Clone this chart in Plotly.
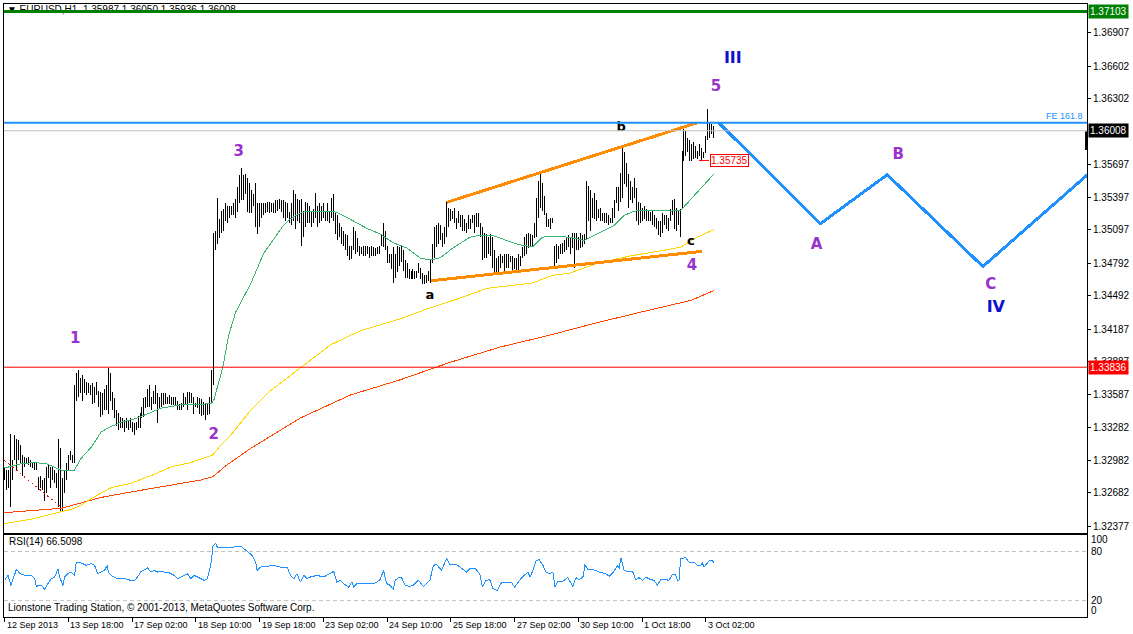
import plotly.graph_objects as go

# ---------------- data ----------------
bar_high = [
1.3291,1.3289,1.3289,1.3322,1.3298,1.3321,1.3318,1.3317,1.3312,1.3303,
1.3301,1.3300,1.3301,1.3298,1.3296,1.3296,1.3296,1.3283,1.3284,1.3280,
1.3282,1.3292,1.3294,1.3292,1.3292,1.3289,1.3286,1.3318,1.3309,1.3282,
1.3289,1.3296,1.3303,1.3307,1.3303,1.3367,1.3378,1.3381,1.3374,1.3376,
1.3373,1.3370,1.3369,1.3367,1.3369,1.3365,1.3370,1.3362,1.3361,1.3360,
1.3364,1.3367,1.3383,1.3378,1.3361,1.3355,1.3344,1.3342,1.3338,1.3337,
1.3335,1.3337,1.3335,1.3337,1.3333,1.3332,1.3333,1.3339,1.3342,1.3347,
1.3355,1.3356,1.3364,1.3367,1.3356,1.3362,1.3367,1.3360,1.3356,1.3360,
1.3360,1.3360,1.3356,1.3358,1.3356,1.3356,1.3356,1.3353,1.3350,1.3351,
1.3360,1.3356,1.3361,1.3361,1.3360,1.3356,1.3351,1.3356,1.3355,1.3354,
1.3352,1.3351,1.3351,1.3356,1.3381,1.3507,1.3509,1.3539,1.3520,1.3527,
1.3529,1.3534,1.3532,1.3532,1.3532,1.3534,1.3538,1.3549,1.3560,1.3567,
1.3560,1.3561,1.3557,1.3553,1.3546,1.3543,1.3553,1.3534,1.3534,1.3534,
1.3534,1.3534,1.3535,1.3535,1.3534,1.3534,1.3537,1.3537,1.3538,1.3537,
1.3537,1.3535,1.3534,1.3526,1.3534,1.3546,1.3543,1.3538,1.3537,1.3538,
1.3527,1.3535,1.3534,1.3532,1.3527,1.3529,1.3544,1.3532,1.3534,1.3532,
1.3534,1.3526,1.3534,1.3526,1.3539,1.3543,1.3525,1.3523,1.3516,1.3512,
1.3509,1.3506,1.3505,1.3495,1.3495,1.3512,1.3509,1.3502,1.3495,1.3494,
1.3495,1.3495,1.3495,1.3494,1.3495,1.3494,1.3493,1.3494,1.3495,1.3505,
1.3516,1.3509,1.3495,1.3488,1.3488,1.3494,1.3488,1.3495,1.3494,1.3495,
1.3491,1.3482,1.3479,1.3474,1.3472,1.3474,1.3472,1.3472,1.3479,1.3475,
1.3470,1.3468,1.3468,1.3472,1.3483,1.3497,1.3512,1.3514,1.3516,1.3514,
1.3507,1.3512,1.3535,1.3530,1.3529,1.3527,1.3530,1.3521,1.3527,1.3523,
1.3523,1.3520,1.3516,1.3523,1.3520,1.3523,1.3523,1.3525,1.3525,1.3516,
1.3512,1.3507,1.3506,1.3503,1.3506,1.3503,1.3491,1.3484,1.3486,1.3488,
1.3486,1.3488,1.3488,1.3488,1.3486,1.3486,1.3484,1.3484,1.3488,1.3486,
1.3494,1.3503,1.3506,1.3507,1.3506,1.3505,1.3516,1.3539,1.3555,1.3562,
1.3553,1.3541,1.3525,1.3520,1.3521,1.3521,1.3495,1.3497,1.3495,1.3497,
1.3498,1.3500,1.3503,1.3505,1.3503,1.3507,1.3507,1.3507,1.3503,1.3507,
1.3505,1.3506,1.3555,1.3550,1.3546,1.3539,1.3544,1.3537,1.3529,1.3530,
1.3525,1.3525,1.3525,1.3523,1.3521,1.3530,1.3537,1.3549,1.3549,1.3562,
1.3585,1.3581,1.3571,1.3561,1.3555,1.3549,1.3557,1.3548,1.3535,1.3534,
1.3530,1.3532,1.3529,1.3527,1.3526,1.3527,1.3523,1.3521,1.3518,1.3518,
1.3525,1.3523,1.3523,1.3521,1.3529,1.3537,1.3538,1.3530,1.3527,1.3529,
1.3582,1.3603,1.3601,1.3594,1.3592,1.3589,1.3590,1.3587,1.3582,1.3589,
1.3585,1.3581,1.3596,1.3621,1.3608,1.3607,1.3605]

bar_low = [
1.3280,1.3271,1.3273,1.3255,1.3280,1.3298,1.3289,1.3298,1.3296,1.3284,
1.3292,1.3296,1.3294,1.3292,1.3291,1.3289,1.3289,1.3271,1.3273,1.3271,
1.3261,1.3268,1.3282,1.3273,1.3280,1.3277,1.3273,1.3255,1.3252,1.3252,
1.3268,1.3280,1.3289,1.3298,1.3296,1.3296,1.3353,1.3356,1.3360,1.3353,
1.3360,1.3358,1.3360,1.3358,1.3350,1.3351,1.3358,1.3347,1.3338,1.3340,
1.3344,1.3344,1.3341,1.3353,1.3344,1.3337,1.3330,1.3326,1.3328,1.3328,
1.3324,1.3328,1.3326,1.3328,1.3324,1.3321,1.3326,1.3328,1.3328,1.3337,
1.3338,1.3346,1.3347,1.3347,1.3344,1.3350,1.3350,1.3332,1.3346,1.3347,
1.3349,1.3350,1.3350,1.3350,1.3349,1.3349,1.3349,1.3344,1.3344,1.3344,
1.3347,1.3349,1.3344,1.3351,1.3351,1.3341,1.3347,1.3346,1.3341,1.3339,
1.3340,1.3335,1.3340,1.3341,1.3350,1.3367,1.3491,1.3497,1.3502,1.3507,
1.3509,1.3518,1.3516,1.3521,1.3523,1.3523,1.3521,1.3526,1.3534,1.3537,
1.3537,1.3543,1.3526,1.3525,1.3525,1.3532,1.3512,1.3506,1.3512,1.3521,
1.3523,1.3525,1.3526,1.3525,1.3526,1.3525,1.3525,1.3527,1.3529,1.3526,
1.3521,1.3518,1.3521,1.3516,1.3514,1.3518,1.3511,1.3518,1.3516,1.3495,
1.3503,1.3512,1.3516,1.3516,1.3512,1.3516,1.3521,1.3512,1.3516,1.3518,
1.3521,1.3518,1.3518,1.3516,1.3521,1.3518,1.3506,1.3500,1.3503,1.3497,
1.3495,1.3491,1.3486,1.3482,1.3483,1.3491,1.3488,1.3489,1.3486,1.3488,
1.3486,1.3486,1.3488,1.3484,1.3486,1.3486,1.3486,1.3488,1.3488,1.3495,
1.3494,1.3491,1.3479,1.3479,1.3474,1.3461,1.3466,1.3471,1.3477,1.3480,
1.3472,1.3466,1.3466,1.3465,1.3465,1.3465,1.3465,1.3466,1.3470,1.3465,
1.3460,1.3460,1.3461,1.3463,1.3461,1.3479,1.3484,1.3494,1.3497,1.3500,
1.3494,1.3497,1.3503,1.3512,1.3518,1.3520,1.3516,1.3511,1.3516,1.3512,
1.3509,1.3509,1.3507,1.3511,1.3511,1.3516,1.3507,1.3512,1.3512,1.3503,
1.3482,1.3484,1.3484,1.3488,1.3486,1.3475,1.3470,1.3470,1.3471,1.3475,
1.3479,1.3472,1.3475,1.3475,1.3480,1.3472,1.3474,1.3472,1.3472,1.3477,
1.3484,1.3486,1.3488,1.3493,1.3494,1.3494,1.3502,1.3503,1.3521,1.3530,
1.3527,1.3523,1.3512,1.3512,1.3511,1.3516,1.3475,1.3479,1.3483,1.3488,
1.3488,1.3489,1.3491,1.3494,1.3488,1.3493,1.3475,1.3491,1.3491,1.3493,
1.3494,1.3497,1.3500,1.3518,1.3509,1.3521,1.3520,1.3518,1.3521,1.3518,
1.3518,1.3516,1.3516,1.3514,1.3516,1.3516,1.3521,1.3534,1.3527,1.3535,
1.3539,1.3552,1.3549,1.3530,1.3537,1.3534,1.3539,1.3518,1.3514,1.3516,
1.3518,1.3520,1.3518,1.3518,1.3518,1.3514,1.3512,1.3511,1.3505,1.3503,
1.3507,1.3514,1.3511,1.3509,1.3518,1.3523,1.3511,1.3509,1.3514,1.3503,
1.3530,1.3573,1.3578,1.3581,1.3573,1.3573,1.3575,1.3576,1.3575,1.3578,
1.3573,1.3576,1.3580,1.3592,1.3594,1.3598,1.3594]

ma_fast_x = [0,8.5,15,21,28.5,35,38.5,43.5,48.5,52,58.5,65,73.5,78.5,88.5,103.5,105,109.5,112.5,116,
             120,123.5,127,130,133.5,137,140,143.5,148.5,152,165,170,175,182,188.5,195,202,208.5,213.5,218.5,
             225,233.5,239.5,244.5,252,258.5,265,270,275,283.5,291,297.5,306,311,316,327.5,334.5,339.5,344.5,349.5,
             354.5,356]
ma_fast = [1.3291,1.3295,1.3296,1.3295,1.3289,1.3289,1.3300,1.3310,1.3324,1.3328,1.3333,1.3336,1.3342,1.3346,1.3349,1.3350,1.3353,1.3383,1.3413,1.3434,
           1.3448,1.3460,1.3475,1.3488,1.3497,1.3506,1.3514,1.3520,1.3525,1.3527,1.3527,1.3523,1.3518,1.3511,1.3506,1.3498,1.3493,1.3484,1.3482,1.3484,
           1.3493,1.3503,1.3505,1.3505,1.3500,1.3496,1.3494,1.3503,1.3504,1.3503,1.3500,1.3506,1.3514,1.3523,1.3527,1.3528,1.3527,1.3528,1.3538,1.3548,
           1.3558,1.3561]

ma_mid_x = [0,13.5,28.5,33.5,38.5,43.5,48.5,53.5,63.5,73.5,83.5,93.5,104.5,108.5,113.5,123.5,133.5,148.5,163.5,178.5,
            198.5,213.5,227,242,255,265,275,283.5,297.5,314.5,331,339.5,347.5,356]
ma_mid = [1.3240,1.3244,1.3251,1.3253,1.3257,1.3263,1.3268,1.3273,1.3277,1.3284,1.3292,1.3296,1.3303,1.3312,1.3321,1.3344,1.3362,1.3383,1.3404,1.3417,
          1.3428,1.3438,1.3446,1.3456,1.3459,1.3461,1.3468,1.3470,1.3479,1.3486,1.3491,1.3494,1.3503,1.3510]

ma_slow_x = [0,28.5,38.5,48.5,63.5,83.5,98.5,104.5,111,123.5,148.5,173.5,198.5,223.5,248.5,273.5,298.5,323.5,344.5,356]
ma_slow = [1.3250,1.3254,1.3259,1.3264,1.3269,1.3275,1.3280,1.3283,1.3293,1.3309,1.3337,1.3358,1.3372,1.3388,1.3402,1.3413,1.3425,1.3436,1.3445,1.3454]

rsi_x = [0,1.8,3.2,5.2,6,7.7,10.2,13.5,15.2,16,16.8,18.5,20.2,21.8,23.5,25.2,26.8,27.7,28.5,29.3,
         30.2,31.8,33.5,35.2,36,36.8,39.3,41,43.5,45.2,46.8,48.5,50.2,51.5,52.2,53.5,55.2,56.8,60.2,63.5,
         65.2,66.8,68.5,70.2,71.8,73.5,75.2,76.8,78.5,80.2,81.8,83.5,85.2,86.8,88.5,90.2,91.8,93.5,95.2,98.5,
         100.2,101.8,103.5,104.7,106,106.8,108.5,111.8,115.2,118.5,120.2,121.8,124.3,126,126.8,128.5,131.8,135.2,138.5,141.8,
         143.5,145.2,146.8,148.5,150.2,151.8,153.5,156.8,160.2,163.5,165.2,166.8,168.5,170.2,172.7,174.3,175.2,176.8,179.3,181.8,
         185.2,186.8,188.5,190.2,191.8,193.5,195.2,196,197.7,199.3,201,203.5,205.2,207.7,210.2,213.5,215.2,216.8,219.3,221.8,
         223.5,226.8,230.2,231.8,233.5,236,238.5,239.8,241.5,243.5,245.2,247.2,249.3,251,254.3,256,258.5,260.2,262.7,263.8,
         265.2,266.8,268.2,270.2,271.8,273.5,275.2,276.3,277.7,280.2,282.7,285.2,286.8,288.5,290.5,291.2,292.7,295.2,298.5,301.8,
         303.5,305.2,307.7,308.5,309.3,311,313.5,315.2,316.8,318.5,320.2,321.8,324.3,326,327.7,329.3,331.8,333.5,335.2,336.8,
         337.7,338.5,339.3,341.8,343.5,346,347.7,349.3,350.2,351,353.5,355.2,356]
rsi_vals = [44.7,50.8,38.6,54.9,58.2,52.9,50.8,50.8,46.8,36.6,38.6,38.6,33.8,40.7,46.8,48.8,59.0,48.8,42.7,38.6,
            48.8,52.9,54.9,50.8,67.1,67.1,65.1,63.0,65.1,63.0,52.9,54.9,56.9,63.0,54.9,50.8,48.8,46.8,46.8,44.7,
            44.7,48.8,55.7,58.2,59.8,54.9,56.9,54.9,55.7,54.9,54.9,52.9,50.8,46.8,48.8,50.8,52.9,46.8,50.8,46.8,
            44.7,46.8,63.0,87.4,89.5,85.4,84.6,85.4,85.4,86.6,83.4,79.3,75.2,67.1,56.9,61.0,61.8,63.0,61.0,61.0,
            50.8,46.8,52.9,42.7,50.8,46.8,48.8,50.8,48.8,52.9,55.7,42.7,44.7,40.7,36.6,42.7,36.6,40.7,40.7,40.7,
            40.7,42.7,45.6,56.9,40.7,38.7,33.4,44.8,48.0,48.0,38.7,37.4,38.7,44.8,37.4,44.8,63.0,64.3,56.9,71.2,
            64.3,64.3,57.8,54.9,59.0,59.8,52.9,36.6,44.8,45.6,34.6,32.6,41.5,42.7,42.7,36.6,44.8,49.6,54.9,48.8,
            56.9,68.3,70.4,63.0,54.9,52.9,54.9,36.6,43.9,43.9,48.0,37.4,48.0,45.6,49.6,64.3,58.2,58.2,54.9,52.9,
            49.6,53.7,63.0,59.0,72.4,56.9,54.9,55.7,45.6,48.0,44.8,48.8,45.6,44.8,38.7,45.6,45.6,44.8,52.1,52.1,
            44.8,44.8,71.2,72.4,67.1,67.1,63.0,63.0,66.3,61.0,68.3,69.1,66.5]

date_ticks = [0, 32, 64, 96, 128, 160, 192, 224, 256, 288, 320, 352]
date_labels = ['12 Sep 2013', '13 Sep 18:00', '17 Sep 02:00', '18 Sep 10:00', '19 Sep 18:00',
               '23 Sep 02:00', '24 Sep 10:00', '25 Sep 18:00', '27 Sep 02:00', '30 Sep 10:00',
               '1 Oct 18:00', '3 Oct 02:00']
price_ticks = [1.36907, 1.36602, 1.36302, 1.35697, 1.35397, 1.35097, 1.34792, 1.34492,
               1.34187, 1.33887, 1.33587, 1.33282, 1.32982, 1.32682, 1.32377]

level_top = 1.37103
level_fe = 1.36081
level_bid = 1.36008
level_red = 1.33836
price_tag = 1.35735

wedge_upper_x = [221.9, 347.4]
wedge_upper_y = [1.3535, 1.3608]
wedge_lower_x = [214.1, 349.9]
wedge_lower_y = [1.3463, 1.3490]
proj_x = [358.5, 409.5, 443.0, 491.0, 543.5]
proj_y = [1.3608, 1.35155, 1.35604, 1.34761, 1.35604]
diag_x = [0, 28.5]
diag_y = [1.3298, 1.3255]

wave_text = ['III', '5', '3', '1', '2', '4', 'a', 'b', 'c', 'A', 'B', 'C', 'IV', 'II']
wave_x = [365.5, 357, 117.5, 35.5, 105, 345, 213.5, 309.5, 344.5, 407.5, 448.5, 495, 497.5, 29.5]
wave_y = [1.3667, 1.3641, 1.3581, 1.3409, 1.3321, 1.3476, 1.3449, 1.3604, 1.3499, 1.3496, 1.3578, 1.3459, 1.3438, 1.3231]

# ---------------- styles ----------------
PURPLE = '#9932CC'
NAVY = '#1010CC'
wave_color = [NAVY, PURPLE, PURPLE, PURPLE, PURPLE, PURPLE, 'black', 'black', 'black',
              PURPLE, PURPLE, PURPLE, NAVY, NAVY]
wave_size = [16, 15, 15, 15, 15, 15, 13, 13, 13, 15, 15, 15, 16, 15]
FONT = 'Liberation Sans, Arial, sans-serif'
XR = [-0.25, 543.25]
YR = [1.32312, 1.37172]

fig = go.Figure()

# header text (drawn as trace so the green level line crosses it)
fig.add_trace(go.Scatter(x=[1.2], y=[1.37112], mode='text',
                         text=['▼ EURUSD,H1  1.35987 1.36050 1.35936 1.36008'],
                         textposition='middle right', textfont=dict(family=FONT, size=10, color='black'),
                         hoverinfo='skip', showlegend=False, xaxis='x', yaxis='y', cliponaxis=False))

# price bars
bx, by = [], []
for i, (h, l) in enumerate(zip(bar_high, bar_low)):
    bx += [i, i, None]
    by += [l, h, None]
fig.add_trace(go.Scatter(x=bx, y=by, mode='lines', line=dict(color='black', width=1),
                         hoverinfo='skip', showlegend=False))

# moving averages
fig.add_trace(go.Scatter(x=ma_slow_x, y=ma_slow, mode='lines', line=dict(color='#FF4500', width=1),
                         hoverinfo='skip', showlegend=False))
fig.add_trace(go.Scatter(x=ma_mid_x, y=ma_mid, mode='lines', line=dict(color='#FFD700', width=1),
                         hoverinfo='skip', showlegend=False))
fig.add_trace(go.Scatter(x=ma_fast_x, y=ma_fast, mode='lines', line=dict(color='#3CB371', width=1),
                         hoverinfo='skip', showlegend=False))
# dotted trendline
fig.add_trace(go.Scatter(x=diag_x, y=diag_y, mode='lines', line=dict(color='#FF0000', width=1, dash='2px,3px'),
                         hoverinfo='skip', showlegend=False))
# wedge lines
fig.add_trace(go.Scatter(x=wedge_upper_x, y=wedge_upper_y, mode='lines', line=dict(color='#FF8C00', width=3),
                         hoverinfo='skip', showlegend=False))
fig.add_trace(go.Scatter(x=wedge_lower_x, y=wedge_lower_y, mode='lines', line=dict(color='#FF8C00', width=3),
                         hoverinfo='skip', showlegend=False))
# projected path
fig.add_trace(go.Scatter(x=proj_x, y=proj_y, mode='lines', line=dict(color='#1E90FF', width=3),
                         hoverinfo='skip', showlegend=False, cliponaxis=True))
# wave labels
fig.add_trace(go.Scatter(x=wave_x, y=wave_y, mode='text', text=['<b>%s</b>' % t for t in wave_text],
                         textposition='middle center',
                         textfont=dict(family='DejaVu Sans, sans-serif', size=wave_size, color=wave_color),
                         hoverinfo='skip', showlegend=False, cliponaxis=True))

# RSI
fig.add_trace(go.Scatter(x=rsi_x, y=rsi_vals, mode='lines', line=dict(color='#1E90FF', width=1),
                         hoverinfo='skip', showlegend=False, xaxis='x2', yaxis='y2'))

shapes = []
def hline(y, color, width, dash='solid', yref='y'):
    shapes.append(dict(type='line', xref='paper', x0=0, x1=1, yref=yref, y0=y, y1=y,
                       line=dict(color=color, width=width, dash=dash), layer='above'))
hline(level_bid, '#C0C0C0', 1)
hline(level_red, '#FF0000', 1)
hline(level_fe, '#1E90FF', 2)
hline(level_top, '#008000', 3)
hline(80, '#C0C0C0', 1, '4px,3px', 'y2')
hline(20, '#C0C0C0', 1, '4px,3px', 'y2')
# price-tag pointer and axis marker
shapes.append(dict(type='line', xref='x', yref='y', x0=348.5, x1=353.5, y0=price_tag, y1=price_tag,
                   line=dict(color='#FF0000', width=1), layer='above'))
shapes.append(dict(type='rect', xref='paper', yref='y', x0=0.9982, x1=1.0009, y0=1.3583, y1=1.3600,
                   line=dict(width=0), fillcolor='black', layer='above'))

annotations = []
def side_tag(y, text, bg):
    annotations.append(dict(xref='paper', x=1, xanchor='left', xshift=1, yref='y', y=y, yanchor='middle',
                            text=text, showarrow=False, bgcolor=bg, borderpad=1,
                            font=dict(family=FONT, size=10, color='white')))
side_tag(level_top, '1.37103', '#008000')
side_tag(level_bid, '1.36008', 'black')
side_tag(level_red, '1.33836', '#FF0000')

annotations.append(dict(xref='paper', x=1, xanchor='right', xshift=-2, yref='y', y=level_fe, yanchor='bottom',
                        yshift=0, text='FE 161.8', showarrow=False,
                        font=dict(family=FONT, size=9, color='#1E90FF')))
annotations.append(dict(xref='x', x=363.8, yref='y', y=price_tag, text='1.35735', showarrow=False,
                        bgcolor='white', bordercolor='#FF0000', borderwidth=1, borderpad=0,
                        font=dict(family=FONT, size=10, color='#FF0000')))
annotations.append(dict(xref='paper', x=0.003, xanchor='left', yref='paper', y=0.1238, yanchor='middle',
                        text='RSI(14) 66.5098', showarrow=False, font=dict(family=FONT, size=10, color='black')))
annotations.append(dict(xref='paper', x=0.002, xanchor='left', yref='paper', y=0.0147, yanchor='middle',
                        text='Lionstone Trading Station, © 2001-2013, MetaQuotes Software Corp.', showarrow=False,
                        font=dict(family=FONT, size=10, color='black')))
for xv, lab in zip(date_ticks, date_labels):
    annotations.append(dict(xref='x2', x=xv, xanchor='left', xshift=0, yref='paper', y=0, yanchor='top',
                            yshift=-1, text=lab, showarrow=False,
                            font=dict(family=FONT, size=9, color='black')))
for val, lab in [(95, '100'), (80, '80'), (20, '20'), (8.5, '0')]:
    annotations.append(dict(xref='paper', x=1, xanchor='left', xshift=2, yref='y2', y=val, yanchor='middle',
                            text=lab, showarrow=False, font=dict(family=FONT, size=10, color='black')))

axis_common = dict(showgrid=False, zeroline=False, showline=True, mirror=True, linecolor='black', linewidth=1)
fig.update_layout(
    width=1133, height=634,
    margin=dict(l=3, r=43, t=3, b=17),
    paper_bgcolor='white', plot_bgcolor='white',
    showlegend=False,
    xaxis=dict(domain=[0, 1], range=XR, anchor='y', showticklabels=False, ticks='', **axis_common),
    yaxis=dict(domain=[0.1368, 1], range=YR, side='right', anchor='x', tickvals=price_ticks,
               ticktext=['%.5f' % v for v in price_ticks], ticks='outside', ticklen=3, tickcolor='black',
               tickfont=dict(family=FONT, size=10, color='black'), **axis_common),
    xaxis2=dict(domain=[0, 1], range=XR, anchor='y2', showticklabels=False, ticks='outside', ticklen=4,
                tickcolor='black', tickvals=date_ticks, **axis_common),
    yaxis2=dict(domain=[0, 0.1336], range=[0, 100], side='right', anchor='x2', showticklabels=False,
                ticks='', **axis_common),
    shapes=shapes, annotations=annotations,
)

fig.write_html('out.html', config={'displayModeBar': False},
               post_script=("document.body.style.margin='0px';document.body.style.overflow='hidden';"
                            "document.querySelectorAll('.scatterlayer path').forEach(function(p){"
                            "p.style.shapeRendering='crispEdges';});"))
